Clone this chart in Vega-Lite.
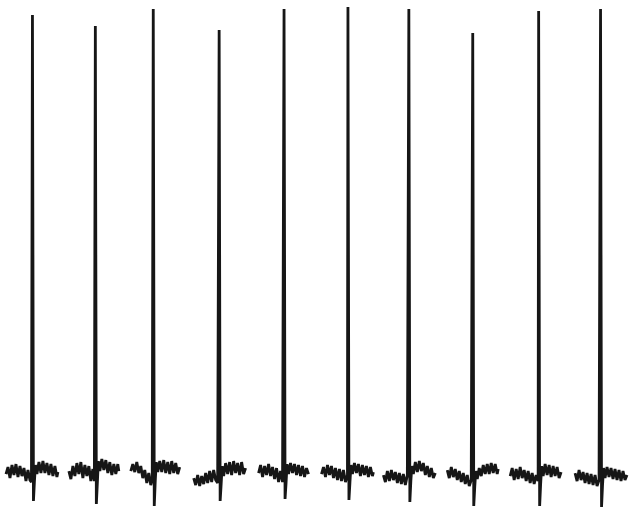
{
"$schema":"https://vega.github.io/schema/vega-lite/v6.json",
"width":630,"height":510,
"autosize":{"type":"fit","contains":"padding"},
"padding":0,
"background":"white",
"config":{"view":{"stroke":null}},
"data":{"values":[
{"s":1,"x":6,"y":35},{"s":1,"x":8,"y":42},{"s":1,"x":10,"y":31},{"s":1,"x":12,"y":44},{"s":1,"x":14,"y":34},{"s":1,"x":16,"y":45},{"s":1,"x":18,"y":32},{"s":1,"x":20,"y":43},{"s":1,"x":22,"y":33},{"s":1,"x":24,"y":41},{"s":1,"x":26,"y":28},{"s":1,"x":28,"y":39},{"s":1,"x":30,"y":29},{"s":1,"x":31.5,"y":27},{"s":1,"x":32.5,"y":495},{"s":1,"x":33.5,"y":8},{"s":1,"x":34.5,"y":28},{"s":1,"x":35.5,"y":44},{"s":1,"x":37,"y":35},{"s":1,"x":39,"y":47},{"s":1,"x":41,"y":36},{"s":1,"x":43,"y":48},{"s":1,"x":45,"y":36},{"s":1,"x":47,"y":46},{"s":1,"x":49,"y":34},{"s":1,"x":51,"y":45},{"s":1,"x":53,"y":33},{"s":1,"x":55,"y":43},{"s":1,"x":57,"y":32},{"s":1,"x":58,"y":37},
{"s":2,"x":69,"y":38},{"s":2,"x":71,"y":30},{"s":2,"x":73,"y":43},{"s":2,"x":75,"y":33},{"s":2,"x":77,"y":46},{"s":2,"x":79,"y":35},{"s":2,"x":81,"y":47},{"s":2,"x":83,"y":31},{"s":2,"x":85,"y":44},{"s":2,"x":87,"y":33},{"s":2,"x":89,"y":43},{"s":2,"x":91,"y":28},{"s":2,"x":93,"y":40},{"s":2,"x":94.5,"y":28},{"s":2,"x":95.5,"y":484},{"s":2,"x":96.5,"y":5},{"s":2,"x":97.5,"y":26},{"s":2,"x":98.5,"y":48},{"s":2,"x":100,"y":38},{"s":2,"x":102,"y":50},{"s":2,"x":104,"y":39},{"s":2,"x":106,"y":49},{"s":2,"x":108,"y":36},{"s":2,"x":110,"y":47},{"s":2,"x":112,"y":34},{"s":2,"x":114,"y":45},{"s":2,"x":116,"y":35},{"s":2,"x":118,"y":45},{"s":2,"x":119,"y":38},
{"s":3,"x":131,"y":38},{"s":3,"x":133,"y":45},{"s":3,"x":135,"y":37},{"s":3,"x":137,"y":47},{"s":3,"x":139,"y":36},{"s":3,"x":141,"y":43},{"s":3,"x":143,"y":31},{"s":3,"x":145,"y":39},{"s":3,"x":147,"y":26},{"s":3,"x":149,"y":36},{"s":3,"x":151,"y":24},{"s":3,"x":152.5,"y":30},{"s":3,"x":153.5,"y":501},{"s":3,"x":154.5,"y":3},{"s":3,"x":155.5,"y":28},{"s":3,"x":156.5,"y":47},{"s":3,"x":158,"y":37},{"s":3,"x":160,"y":48},{"s":3,"x":162,"y":37},{"s":3,"x":164,"y":49},{"s":3,"x":166,"y":36},{"s":3,"x":168,"y":47},{"s":3,"x":170,"y":35},{"s":3,"x":172,"y":48},{"s":3,"x":174,"y":36},{"s":3,"x":176,"y":46},{"s":3,"x":178,"y":35},{"s":3,"x":180,"y":42},
{"s":4,"x":194,"y":31},{"s":4,"x":196,"y":24},{"s":4,"x":198,"y":34},{"s":4,"x":200,"y":23},{"s":4,"x":202,"y":33},{"s":4,"x":204,"y":25},{"s":4,"x":206,"y":36},{"s":4,"x":208,"y":26},{"s":4,"x":210,"y":38},{"s":4,"x":212,"y":27},{"s":4,"x":214,"y":39},{"s":4,"x":216,"y":29},{"s":4,"x":218,"y":26},{"s":4,"x":219.5,"y":480},{"s":4,"x":220.5,"y":8},{"s":4,"x":221.5,"y":25},{"s":4,"x":222.5,"y":43},{"s":4,"x":224,"y":33},{"s":4,"x":226,"y":46},{"s":4,"x":228,"y":35},{"s":4,"x":230,"y":47},{"s":4,"x":232,"y":34},{"s":4,"x":234,"y":48},{"s":4,"x":236,"y":36},{"s":4,"x":238,"y":46},{"s":4,"x":240,"y":34},{"s":4,"x":242,"y":47},{"s":4,"x":244,"y":35},{"s":4,"x":246,"y":41},
{"s":5,"x":259,"y":36},{"s":5,"x":261,"y":44},{"s":5,"x":263,"y":32},{"s":5,"x":265,"y":43},{"s":5,"x":267,"y":34},{"s":5,"x":269,"y":45},{"s":5,"x":271,"y":33},{"s":5,"x":273,"y":42},{"s":5,"x":275,"y":30},{"s":5,"x":277,"y":41},{"s":5,"x":279,"y":27},{"s":5,"x":281,"y":38},{"s":5,"x":283,"y":27},{"s":5,"x":284.5,"y":501},{"s":5,"x":285.5,"y":10},{"s":5,"x":286.5,"y":26},{"s":5,"x":287.5,"y":45},{"s":5,"x":289,"y":35},{"s":5,"x":291,"y":46},{"s":5,"x":293,"y":36},{"s":5,"x":295,"y":45},{"s":5,"x":297,"y":34},{"s":5,"x":299,"y":44},{"s":5,"x":301,"y":33},{"s":5,"x":303,"y":43},{"s":5,"x":305,"y":32},{"s":5,"x":307,"y":41},{"s":5,"x":309,"y":35},
{"s":6,"x":322,"y":35},{"s":6,"x":324,"y":42},{"s":6,"x":326,"y":32},{"s":6,"x":328,"y":44},{"s":6,"x":330,"y":34},{"s":6,"x":332,"y":43},{"s":6,"x":334,"y":31},{"s":6,"x":336,"y":41},{"s":6,"x":338,"y":29},{"s":6,"x":340,"y":40},{"s":6,"x":342,"y":28},{"s":6,"x":344,"y":39},{"s":6,"x":346,"y":27},{"s":6,"x":348,"y":34},{"s":6,"x":348.5,"y":503},{"s":6,"x":349.5,"y":9},{"s":6,"x":350.5,"y":27},{"s":6,"x":351.5,"y":44},{"s":6,"x":353,"y":35},{"s":6,"x":355,"y":46},{"s":6,"x":357,"y":36},{"s":6,"x":359,"y":45},{"s":6,"x":361,"y":33},{"s":6,"x":363,"y":44},{"s":6,"x":365,"y":34},{"s":6,"x":367,"y":43},{"s":6,"x":369,"y":32},{"s":6,"x":371,"y":42},{"s":6,"x":373,"y":33},{"s":6,"x":374,"y":37},
{"s":7,"x":384,"y":34},{"s":7,"x":386,"y":27},{"s":7,"x":388,"y":38},{"s":7,"x":390,"y":28},{"s":7,"x":392,"y":39},{"s":7,"x":394,"y":29},{"s":7,"x":396,"y":37},{"s":7,"x":398,"y":26},{"s":7,"x":400,"y":36},{"s":7,"x":402,"y":25},{"s":7,"x":404,"y":35},{"s":7,"x":406,"y":24},{"s":7,"x":408,"y":34},{"s":7,"x":409.5,"y":501},{"s":7,"x":410.5,"y":7},{"s":7,"x":411.5,"y":28},{"s":7,"x":412.5,"y":43},{"s":7,"x":414,"y":35},{"s":7,"x":416,"y":47},{"s":7,"x":418,"y":37},{"s":7,"x":420,"y":48},{"s":7,"x":422,"y":38},{"s":7,"x":424,"y":46},{"s":7,"x":426,"y":34},{"s":7,"x":428,"y":43},{"s":7,"x":430,"y":32},{"s":7,"x":432,"y":41},{"s":7,"x":434,"y":31},{"s":7,"x":436,"y":36},
{"s":8,"x":448,"y":39},{"s":8,"x":450,"y":31},{"s":8,"x":452,"y":42},{"s":8,"x":454,"y":32},{"s":8,"x":456,"y":40},{"s":8,"x":458,"y":29},{"s":8,"x":460,"y":38},{"s":8,"x":462,"y":27},{"s":8,"x":464,"y":36},{"s":8,"x":466,"y":25},{"s":8,"x":468,"y":34},{"s":8,"x":470,"y":23},{"s":8,"x":472,"y":29},{"s":8,"x":473.5,"y":477},{"s":8,"x":474.5,"y":3},{"s":8,"x":475.5,"y":22},{"s":8,"x":476.5,"y":38},{"s":8,"x":478,"y":30},{"s":8,"x":480,"y":41},{"s":8,"x":482,"y":33},{"s":8,"x":484,"y":44},{"s":8,"x":486,"y":35},{"s":8,"x":488,"y":45},{"s":8,"x":490,"y":35},{"s":8,"x":492,"y":46},{"s":8,"x":494,"y":36},{"s":8,"x":496,"y":45},{"s":8,"x":498,"y":35},{"s":8,"x":499,"y":40},
{"s":9,"x":511,"y":33},{"s":9,"x":513,"y":41},{"s":9,"x":515,"y":29},{"s":9,"x":517,"y":40},{"s":9,"x":519,"y":30},{"s":9,"x":521,"y":42},{"s":9,"x":523,"y":31},{"s":9,"x":525,"y":39},{"s":9,"x":527,"y":28},{"s":9,"x":529,"y":38},{"s":9,"x":531,"y":26},{"s":9,"x":533,"y":36},{"s":9,"x":535,"y":25},{"s":9,"x":537,"y":34},{"s":9,"x":539,"y":28},{"s":9,"x":539.5,"y":499},{"s":9,"x":540.5,"y":3},{"s":9,"x":541.5,"y":25},{"s":9,"x":542.5,"y":43},{"s":9,"x":544,"y":33},{"s":9,"x":546,"y":45},{"s":9,"x":548,"y":34},{"s":9,"x":550,"y":44},{"s":9,"x":552,"y":32},{"s":9,"x":554,"y":43},{"s":9,"x":556,"y":33},{"s":9,"x":558,"y":42},{"s":9,"x":560,"y":31},{"s":9,"x":562,"y":37},
{"s":10,"x":576,"y":36},{"s":10,"x":578,"y":28},{"s":10,"x":580,"y":39},{"s":10,"x":582,"y":29},{"s":10,"x":584,"y":37},{"s":10,"x":586,"y":26},{"s":10,"x":588,"y":36},{"s":10,"x":590,"y":25},{"s":10,"x":592,"y":35},{"s":10,"x":594,"y":24},{"s":10,"x":596,"y":34},{"s":10,"x":598,"y":23},{"s":10,"x":600,"y":29},{"s":10,"x":601.5,"y":501},{"s":10,"x":602.5,"y":2},{"s":10,"x":603.5,"y":24},{"s":10,"x":604.5,"y":41},{"s":10,"x":606,"y":31},{"s":10,"x":608,"y":42},{"s":10,"x":610,"y":32},{"s":10,"x":612,"y":41},{"s":10,"x":614,"y":30},{"s":10,"x":616,"y":40},{"s":10,"x":618,"y":29},{"s":10,"x":620,"y":39},{"s":10,"x":622,"y":28},{"s":10,"x":624,"y":38},{"s":10,"x":626,"y":29},{"s":10,"x":628,"y":34}
]},
"mark":{"type":"line","color":"#161616","strokeWidth":2.8,"strokeJoin":"miter","strokeMiterLimit":2,"interpolate":"linear"},
"encoding":{
"x":{"field":"x","type":"quantitative","scale":{"domain":[0,630],"nice":false,"zero":false},"axis":null},
"y":{"field":"y","type":"quantitative","scale":{"domain":[0,510],"nice":false,"zero":false},"axis":null},
"detail":{"field":"s","type":"nominal"}
}
}
